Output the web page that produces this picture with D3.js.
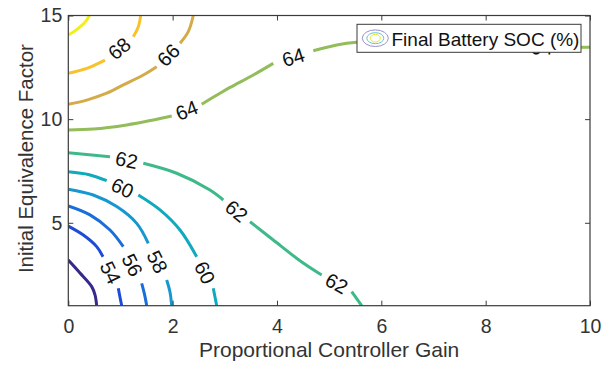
<!DOCTYPE html>
<html>
<head>
<meta charset="utf-8">
<script src="https://cdn.jsdelivr.net/npm/d3@7"></script>
<style>
  html, body { margin: 0; padding: 0; background: #fff; }
  svg { display: block; }
  text { font-family: "Liberation Sans", Arial, Helvetica, sans-serif; }
</style>
</head>
<body>
<svg id="chart" width="613" height="367"></svg>
<script>
// ---------------- data ----------------
const xTicks = [0, 2, 4, 6, 8, 10];
const yTicks = [5, 10, 15];
const xDomain = [0, 10];
const yDomain = [1, 15];
const xLabel = "Proportional Controller Gain";
const yLabel = "Initial Equivalence Factor";
const legendLabel = "Final Battery SOC (%)";

const levels = [52, 54, 56, 58, 60, 62, 64, 66, 68, 70];
const levelColors = ["#352a8a", "#1f4bd9", "#1a6ed9", "#1597d0", "#10aabd",
                     "#3eba8a", "#93bc5a", "#d3ab48", "#f9c22b", "#f2ef18"];

// contour lines: each level -> list of segments (gaps between segments hold the labels)
const c52 = [[[0, 3.20], [0.224, 2.58], [0.449, 1.92], [0.512, 1.52], [0.544, 1.0]]];
const c54 = [
  [[0, 4.84], [0.288, 4.41], [0.544, 3.85], [0.665, 3.36]],
  [[0.959, 1.84], [0.99, 1.42], [1.024, 1.0]]
];
const c56 = [
  [[0, 5.81], [0.416, 5.38], [0.799, 4.65], [1.054, 3.85]],
  [[1.407, 2.08], [1.46, 1.56], [1.503, 1.0]]
];
const c58 = [
  [[0, 6.62], [0.479, 6.34], [0.928, 5.78], [1.311, 4.97], [1.533, 4.01]],
  [[1.886, 2.24], [1.949, 1.66], [1.982, 1.0]]
];
const c60 = [
  [[0, 7.46], [0.40, 7.32], [0.736, 7.03]],
  [[1.342, 6.34], [1.758, 5.62], [2.141, 4.65], [2.461, 3.36]],
  [[2.779, 1.84], [2.845, 1.0]]
];
const c62 = [
  [[0, 8.38], [0.799, 8.19]],
  [[1.438, 7.87], [2.078, 7.39], [2.716, 6.58], [2.971, 6.10]],
  [[3.483, 5.05], [3.929, 4.17], [4.441, 3.17], [4.857, 2.48]],
  [[5.432, 1.68], [5.624, 1.0]]
];
const c64 = [
  [[0, 9.48], [0.479, 9.52], [1.119, 9.72], [1.629, 9.96], [1.982, 10.15]],
  [[2.557, 10.72], [2.908, 11.25], [3.10, 11.53], [3.546, 12.13], [3.929, 12.69]],
  [[4.696, 13.30], [5.145, 13.58], [5.528, 13.71], [6.36, 13.77], [7.32, 13.67], [8.735, 13.48]],
  [[9.406, 13.46], [10, 13.47]]
];
const c66 = [
  [[0, 10.72], [0.353, 10.92], [0.736, 11.25], [1.054, 11.65], [1.438, 12.13], [1.694, 12.53]],
  [[2.141, 13.66], [2.300, 14.22], [2.396, 15.0]]
];
const c68 = [
  [[0, 12.21], [0.353, 12.45], [0.703, 12.85]],
  [[1.246, 13.98], [1.342, 14.46], [1.388, 15.0]]
];
const c70 = [[[0, 14.06], [0.192, 14.38], [0.353, 14.78], [0.403, 15.0]]];

const contourLines = [c52, c54, c56, c58, c60, c62, c64, c66, c68, c70];

// ---------------- drawing ----------------
const svg = d3.select("#chart");
const L = 68.3, R = 590, T = 15.5, B = 305.7;
const x = d3.scaleLinear().domain(xDomain).range([L, R]);
const y = d3.scaleLinear().domain(yDomain).range([B, T]);
const axisColor = "#3a3a3a";
const textColor = "#333";

svg.append("defs").append("clipPath").attr("id", "plotclip")
  .append("rect").attr("x", L).attr("y", T).attr("width", R - L).attr("height", B - T);

const gPlot = svg.append("g").attr("clip-path", "url(#plotclip)");
const line = d3.line().x(d => x(d[0])).y(d => y(d[1])).curve(d3.curveCatmullRom.alpha(0.5));

contourLines.forEach((segs, i) => {
  const col = levelColors[i];
  segs.forEach(seg => {
    gPlot.append("path").attr("d", line(seg))
      .attr("fill", "none").attr("stroke", col)
      .attr("stroke-width", 3).attr("stroke-linecap", "butt").attr("stroke-linejoin", "round");
  });
  // labels in gaps
  for (let k = 0; k < segs.length - 1; k++) {
    const a = segs[k][segs[k].length - 1];
    const b = segs[k + 1][0];
    const ax = x(a[0]), ay = y(a[1]), bx = x(b[0]), by = y(b[1]);
    const mx = (ax + bx) / 2, my = (ay + by) / 2;
    let ang = Math.atan2(by - ay, bx - ax) * 180 / Math.PI;
    if (ang > 90) ang -= 180;
    if (ang < -90) ang += 180;
    gPlot.append("text")
      .attr("transform", `translate(${mx},${my}) rotate(${ang})`)
      .attr("text-anchor", "middle").attr("dy", "0.36em")
      .attr("font-size", 20).attr("fill", "#111")
      .text(levels[i]);
  }
});

// axes box
svg.append("rect").attr("x", L).attr("y", T).attr("width", R - L).attr("height", B - T)
  .attr("fill", "none").attr("stroke", axisColor).attr("stroke-width", 1.2);

const tickLen = 5;
const xAxisB = d3.axisBottom(x).tickValues(xTicks).tickSizeInner(-tickLen).tickSizeOuter(0).tickPadding(13);
const gxb = svg.append("g").attr("transform", `translate(0,${B})`).call(xAxisB);
const xAxisT = d3.axisTop(x).tickValues(xTicks).tickSizeInner(-tickLen).tickSizeOuter(0).tickFormat("");
const gxt = svg.append("g").attr("transform", `translate(0,${T})`).call(xAxisT);
const yAxisL = d3.axisLeft(y).tickValues(yTicks).tickSizeInner(-tickLen).tickSizeOuter(0).tickPadding(6);
const gyl = svg.append("g").attr("transform", `translate(${L},0)`).call(yAxisL);
const yAxisR = d3.axisRight(y).tickValues(yTicks).tickSizeInner(-tickLen).tickSizeOuter(0).tickFormat("");
const gyr = svg.append("g").attr("transform", `translate(${R},0)`).call(yAxisR);

[gxb, gxt, gyl, gyr].forEach(g => {
  g.select(".domain").remove();
  g.selectAll(".tick line").attr("stroke", axisColor).attr("stroke-width", 1);
  g.selectAll(".tick text").attr("font-size", 19.5).attr("fill", textColor)
    .attr("font-family", '"Liberation Sans", Arial, sans-serif');
});

// axis labels
svg.append("text").attr("x", (L + R) / 2).attr("y", 356.5)
  .attr("text-anchor", "middle").attr("font-size", 21).attr("fill", textColor).text(xLabel);
svg.append("text").attr("transform", `translate(33,${(T + B) / 2 - 2}) rotate(-90)`)
  .attr("text-anchor", "middle").attr("font-size", 20.5).attr("fill", textColor).text(yLabel);

// legend
const lg = svg.append("g");
lg.append("rect").attr("x", 357).attr("y", 24.3).attr("width", 224).attr("height", 28)
  .attr("fill", "#fff").attr("stroke", axisColor).attr("stroke-width", 1);
const icon = [[13, 8.3, "#9a90d0"], [8.5, 5.5, "#62c6cc"], [5, 3.8, "#e8e830"]];
icon.forEach(e => {
  lg.append("ellipse").attr("cx", 375.3).attr("cy", 38.2).attr("rx", e[0]).attr("ry", e[1])
    .attr("fill", "none").attr("stroke", e[2]).attr("stroke-width", 1);
});
lg.append("text").attr("x", 391.5).attr("y", 46).attr("font-size", 19).attr("fill", "#111")
  .text(legendLabel);
</script>
</body>
</html>
